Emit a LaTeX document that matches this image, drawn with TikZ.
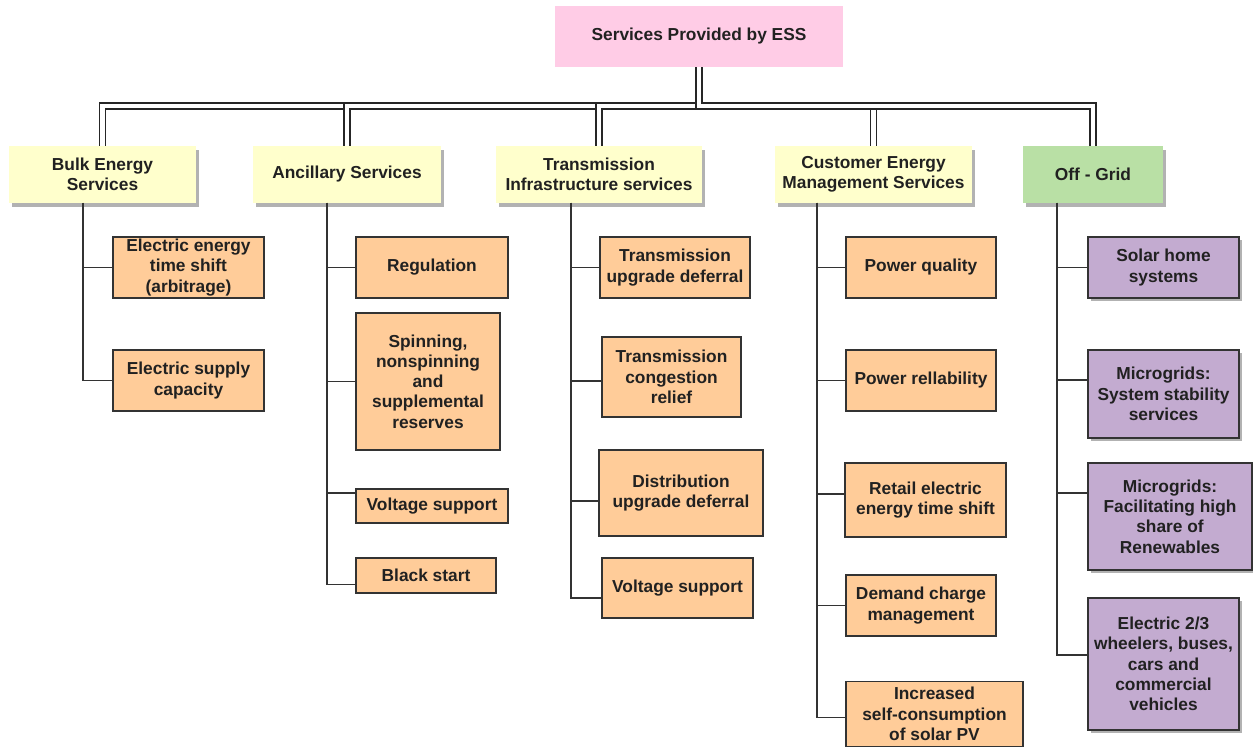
\documentclass[tikz,border=0pt]{standalone}
\usepackage{fontspec}
\setmainfont{Liberation Sans}
\usetikzlibrary{shadows}

\definecolor{rootpink}{HTML}{FFCCE6}
\definecolor{headyellow}{HTML}{FFFFCC}
\definecolor{offgreen}{HTML}{B9E0A5}
\definecolor{leaforange}{HTML}{FFCC99}
\definecolor{leafpurple}{HTML}{C3ABD0}
\definecolor{edgegray}{HTML}{333333}

\begin{document}
\begin{tikzpicture}[x=0.75pt, y=-0.75pt,
	every node/.style={font=\fontsize{13}{15.2}\selectfont\bfseries, align=center, text=black!87, inner sep=1pt},
	rootbox/.style={fill=rootpink, minimum width=216pt, minimum height=45.75pt},
	headbox/.style={fill=headyellow, minimum height=42.75pt, drop shadow={shadow xshift=2.4pt, shadow yshift=-3pt, fill=black!30, opacity=1}},
	leafbox/.style={draw=edgegray, line width=0.9pt, fill=leaforange},
	offbox/.style={leafbox, fill=leafpurple, drop shadow={shadow xshift=2pt, shadow yshift=-2.5pt, fill=black!30, opacity=1}},
	link/.style={draw=edgegray, line width=0.9pt},
	dbl/.style={draw=black!85, line width=0.9pt, double=white, double distance=3.6pt}]
	\useasboundingbox (0,0) rectangle (1253,748);

	% root and the five groups
	\node[rootbox] (ess) at (699,36.5) {Services Provided by ESS};
	\node[headbox, minimum width=140.25pt] (bulk) at (102.5,174.5) {Bulk Energy\\Services};
	\node[headbox, minimum width=141pt] (anc) at (347,174.5) {Ancillary Services};
	\node[headbox, minimum width=154.5pt] (trans) at (599,174.5) {Transmission\\Infrastructure services};
	\node[headbox, minimum width=147.75pt] (cust) at (873.5,174.5) {Customer Energy\\Management Services};
	\node[headbox, fill=offgreen, minimum width=105pt] (off) at (1093,174.5) {Off - Grid};

	\coordinate (bus) at (0,106);
	\foreach \h in {bulk,anc,trans,cust,off}
		\draw[dbl] (ess.south) |- (bus -| \h.north) -- (\h.north);

	% Bulk energy
	\node[leafbox, minimum width=113.25pt, minimum height=45.75pt] (b1) at (188.5,267.5) {Electric energy\\time shift\\(arbitrage)};
	\node[leafbox, minimum width=113.25pt, minimum height=45.75pt] (b2) at (188.5,380.5) {Electric supply\\capacity};

	% Ancillary
	\node[leafbox, minimum width=114pt, minimum height=45.75pt] (a1) at (432,267.5) {Regulation};
	\node[leafbox, minimum width=108pt, minimum height=102.75pt] (a2) at (428,381.5) {Spinning,\\nonspinning\\and\\supplemental\\reserves};
	\node[leafbox, minimum width=114pt, minimum height=25.5pt] (a3) at (432,506) {Voltage support};
	\node[leafbox, minimum width=105pt, minimum height=26.25pt] (a4) at (426,575.5) {Black start};

	% Transmission
	\node[leafbox, minimum width=112.5pt, minimum height=45.75pt] (t1) at (675,267.5) {Transmission\\upgrade deferral};
	\node[leafbox, minimum width=104.25pt, minimum height=60pt] (t2) at (671.5,377) {Transmission\\congestion\\relief};
	\node[leafbox, minimum width=123pt, minimum height=64.5pt] (t3) at (681,493) {Distribution\\upgrade deferral};
	\node[leafbox, minimum width=113.25pt, minimum height=45pt] (t4) at (677.5,588) {Voltage support};

	% Customer
	\node[leafbox, minimum width=112.5pt, minimum height=45.75pt] (c1) at (921,267.5) {Power quality};
	\node[leafbox, minimum width=112.5pt, minimum height=45.75pt] (c2) at (921,380.5) {Power rellability};
	\node[leafbox, minimum width=120.75pt, minimum height=55.5pt] (c3) at (925.5,500) {Retail electric\\energy time shift};
	\node[leafbox, minimum width=112.5pt, minimum height=45.75pt] (c4) at (921,605.5) {Demand charge\\management};
	\node[leafbox, minimum width=132.75pt, minimum height=48.75pt] (c5) at (934.5,714) {Increased\\self-consumption\\of solar PV};

	% Off-grid
	\node[offbox, minimum width=113.25pt, minimum height=45.75pt] (o1) at (1163.5,267.5) {Solar home\\systems};
	\node[offbox, minimum width=113.25pt, minimum height=66pt] (o2) at (1163.5,394) {Microgrids:\\System stability\\services};
	\node[offbox, minimum width=123pt, minimum height=80.25pt] (o3) at (1170,516.5) {Microgrids:\\Facilitating high\\share of\\Renewables};
	\node[offbox, minimum width=113.25pt, minimum height=99pt] (o4) at (1163.5,664) {Electric 2/3\\wheelers, buses,\\cars and\\commercial\\vehicles};

	% stems and branches
	\coordinate (sB) at (83,203);
	\coordinate (sA) at (327,203);
	\coordinate (sT) at (571,203);
	\coordinate (sC) at (817,203);
	\coordinate (sO) at (1057,203);
	\foreach \leaf/\dy in {b1/0,b2/0}
		\draw[link] (sB) |- ([yshift=\dy pt]\leaf.west);
	\foreach \leaf/\dy in {a1/0,a2/0,a3/9.75,a4/-7}
		\draw[link] (sA) |- ([yshift=\dy pt]\leaf.west);
	\foreach \leaf/\dy in {t1/0,t2/-3,t3/-6,t4/-7.5}
		\draw[link] (sT) |- ([yshift=\dy pt]\leaf.west);
	\foreach \leaf/\dy in {c1/0,c2/0,c3/4.5,c4/0,c5/-2.6}
		\draw[link] (sC) |- ([yshift=\dy pt]\leaf.west);
	\foreach \leaf/\dy in {o1/0,o2/10.5,o3/17.6,o4/6.75}
		\draw[link] (sO) |- ([yshift=\dy pt]\leaf.west);
	\coordinate (o3b) at ([yshift=17.6pt]o3.west);
	\draw[link, line width=2.2pt] (sO) -- (sO |- o3b);
\end{tikzpicture}
\end{document}
